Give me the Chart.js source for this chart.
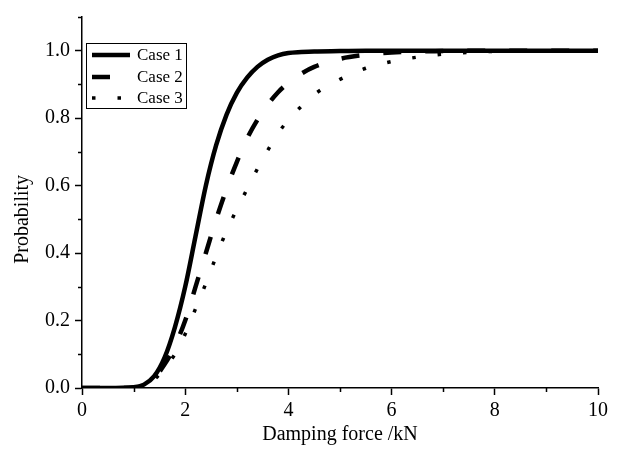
<!DOCTYPE html>
<html>
<head>
<meta charset="utf-8">
<script src="https://cdn.jsdelivr.net/npm/chart.js@4/dist/chart.umd.min.js"></script>
<style>
  html, body { margin: 0; padding: 0; background: #fff; }
  #wrap { width: 618px; height: 452px; }
</style>
</head>
<body>
<div id="wrap"><canvas id="chart" width="618" height="452"></canvas></div>
<script>
// damping force grid (kN) shared by the three cases
const forceKN = [0, 0.5, 1.0, 1.2, 1.4, 1.6, 1.8, 2.0, 2.2, 2.4, 2.6, 2.8, 3.0, 3.2, 3.4,
  3.6, 3.8, 4.0, 4.25, 4.5, 5.0, 5.5, 6.0, 6.5, 7.0, 7.5, 8.0, 9.0, 10.0]

// cumulative probability for each case
const case1 = [0, 0, 0.002, 0.01, 0.035, 0.09, 0.18, 0.30, 0.45, 0.60, 0.72, 0.81, 0.875, 0.92, 0.952,
  0.973, 0.986, 0.993, 0.996, 0.998, 0.999, 1, 1, 1, 1, 1, 1, 1, 1]
const case2 = [0, 0, 0.001, 0.008, 0.03, 0.07, 0.125, 0.20, 0.30, 0.40, 0.50, 0.59, 0.67, 0.74, 0.795,
  0.84, 0.877, 0.905, 0.932, 0.952, 0.976, 0.988, 0.995, 0.998, 0.999, 1, 1, 1, 1]
const case3 = [0, 0, 0.001, 0.007, 0.025, 0.06, 0.10, 0.16, 0.235, 0.31, 0.39, 0.465, 0.53, 0.59, 0.65,
  0.705, 0.755, 0.795, 0.835, 0.87, 0.915, 0.948, 0.968, 0.981, 0.99, 0.995, 0.998, 1, 1]

const caseLabels = ['Case 1', 'Case 2', 'Case 3']
const xTickValues = [0, 2, 4, 6, 8, 10]
const yTickValues = [0, 0.2, 0.4, 0.6, 0.8, 1.0]

const FONT = "'Liberation Serif', 'Times New Roman', serif"

function toPoints(ys) {
  return forceKN.map((x, i) => ({ x: x, y: ys[i] }))
}

function isMajor(list, v) {
  return list.some(t => Math.abs(t - v) < 1e-6)
}

// short unlabeled ticks between the labeled ones
const minorTicks = {
  id: 'minorTicks',
  afterDraw(chart) {
    const ctx = chart.ctx
    const xs = chart.scales.x
    const ys = chart.scales.y
    ctx.save()
    ctx.strokeStyle = '#000'
    ctx.lineWidth = 1.5
    ctx.beginPath()
    xs.ticks.forEach(t => {
      if (isMajor(xTickValues, t.value)) return
      const px = Math.round(xs.getPixelForValue(t.value)) + 0.5
      ctx.moveTo(px, xs.top)
      ctx.lineTo(px, xs.top + 4)
    })
    ys.ticks.forEach(t => {
      if (isMajor(yTickValues, t.value)) return
      const py = Math.round(ys.getPixelForValue(t.value)) + 0.5
      ctx.moveTo(ys.right, py)
      ctx.lineTo(ys.right - 4, py)
    })
    ctx.stroke()
    ctx.restore()
  }
}

// y title sits centred on the 0..1 range, not on the full axis
const yTitle = {
  id: 'yTitle',
  afterDraw(chart) {
    const ctx = chart.ctx
    const ys = chart.scales.y
    const cy = (ys.getPixelForValue(0) + ys.getPixelForValue(1)) / 2
    ctx.save()
    ctx.translate(23, cy)
    ctx.rotate(-Math.PI / 2)
    ctx.font = '20px ' + FONT
    ctx.fillStyle = '#000'
    ctx.textAlign = 'center'
    ctx.textBaseline = 'middle'
    ctx.fillText('Probability', 0, 0)
    ctx.restore()
  }
}

// boxed legend in the upper left corner of the plot
const boxLegend = {
  id: 'boxLegend',
  afterDraw(chart) {
    const ctx = chart.ctx
    const left = chart.chartArea.left + 4
    const top = 43
    const rows = [55, 77, 98]
    ctx.save()
    ctx.fillStyle = '#fff'
    ctx.fillRect(left, top, 100, 65)
    ctx.strokeStyle = '#000'
    ctx.lineWidth = 1
    ctx.strokeRect(left + 0.5, top + 0.5, 100, 65)
    chart.data.datasets.forEach((ds, i) => {
      const y = rows[i]
      ctx.beginPath()
      ctx.setLineDash(ds.borderDash || [])
      ctx.lineWidth = ds.borderWidth
      ctx.lineCap = 'butt'
      ctx.moveTo(left + 6, y)
      ctx.lineTo(left + 44, y)
      ctx.stroke()
      ctx.setLineDash([])
      ctx.font = '17px ' + FONT
      ctx.fillStyle = '#000'
      ctx.textBaseline = 'middle'
      ctx.fillText(ds.label, left + 51, y + 1)
    })
    ctx.restore()
  }
}

const data = {
  datasets: [
    { label: caseLabels[0], data: toPoints(case1), borderColor: '#000', borderWidth: 4.5 },
    { label: caseLabels[1], data: toPoints(case2), borderColor: '#000', borderWidth: 4.5, borderDash: [18, 24] },
    { label: caseLabels[2], data: toPoints(case3), borderColor: '#000', borderWidth: 3.5, borderDash: [3.5, 22] }
  ]
}

const config = {
  type: 'line',
  data: data,
  options: {
    responsive: false,
    animation: false,
    devicePixelRatio: 1,
    layout: { padding: { top: 6, right: 20, left: 0, bottom: 0 } },
    elements: {
      point: { radius: 0 },
      line: { cubicInterpolationMode: 'monotone', fill: false, borderCapStyle: 'butt' }
    },
    plugins: {
      legend: { display: false },
      tooltip: { enabled: false }
    },
    scales: {
      x: {
        type: 'linear',
        min: 0,
        max: 10,
        border: { display: true, color: '#000', width: 1.5 },
        grid: {
          drawOnChartArea: false,
          tickLength: 7,
          tickWidth: 1.5,
          tickColor: ctx => isMajor(xTickValues, ctx.tick.value) ? '#000' : 'rgba(0,0,0,0)'
        },
        ticks: {
          stepSize: 1,
          autoSkip: false,
          maxRotation: 0,
          padding: 4,
          color: '#000',
          font: { family: FONT, size: 20 },
          callback: v => isMajor(xTickValues, v) ? String(v) : ''
        },
        title: {
          display: true,
          text: 'Damping force /kN',
          color: '#000',
          font: { family: FONT, size: 20 },
          padding: { top: 0, bottom: 5 }
        },
        afterFit: scale => { scale.height = 64 }
      },
      y: {
        type: 'linear',
        min: 0,
        max: 1.1,
        border: { display: true, color: '#000', width: 1.5 },
        grid: {
          drawOnChartArea: false,
          tickLength: 7,
          tickWidth: 1.5,
          tickColor: ctx => isMajor(yTickValues, ctx.tick.value) ? '#000' : 'rgba(0,0,0,0)'
        },
        ticks: {
          stepSize: 0.1,
          autoSkip: false,
          padding: 5,
          color: '#000',
          font: { family: FONT, size: 20 },
          callback: v => isMajor(yTickValues, v) ? v.toFixed(1) : ''
        },
        afterFit: scale => { scale.width = 82 }
      }
    }
  },
  plugins: [minorTicks, yTitle, boxLegend]
}

new Chart(document.getElementById('chart').getContext('2d'), config)
</script>
</body>
</html>
